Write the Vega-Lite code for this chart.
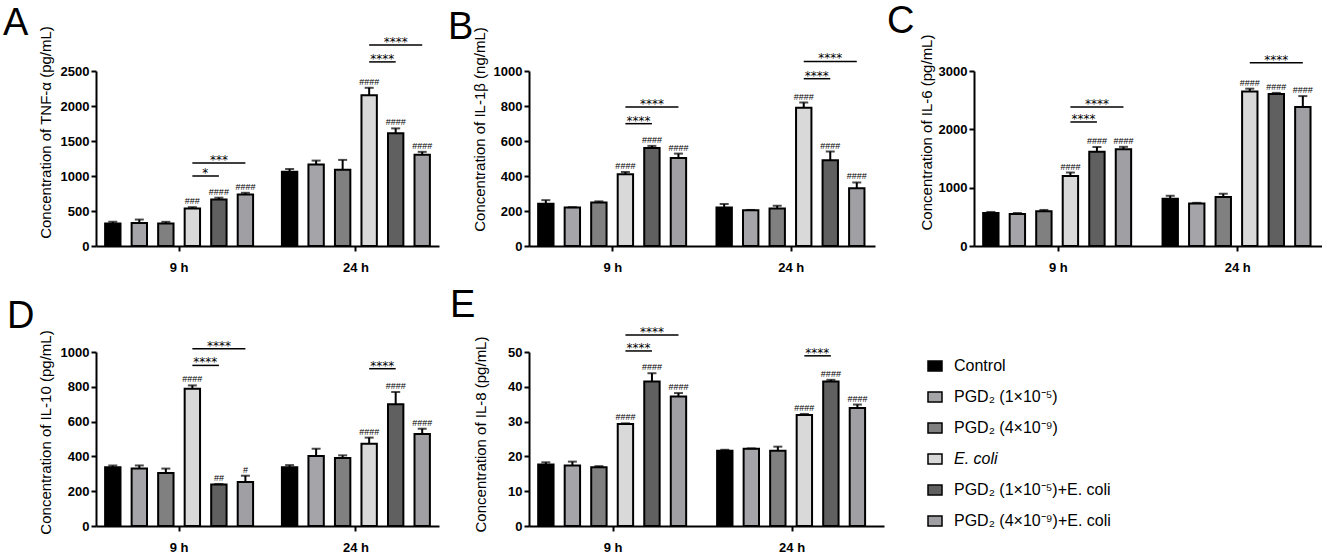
{
"$schema": "https://vega.github.io/schema/vega-lite/v6.json",
"padding": {"left": 3, "top": 3, "right": 0, "bottom": 0},
"datasets": {
"bars": [
{"panel":"A","time":"9 h","group":"Control","mean":320,"hi":345,"sig":""},
{"panel":"A","time":"9 h","group":"PGD₂ (1×10⁻⁵)","mean":330,"hi":378,"sig":""},
{"panel":"A","time":"9 h","group":"PGD₂ (4×10⁻⁹)","mean":320,"hi":345,"sig":""},
{"panel":"A","time":"9 h","group":"E. coli","mean":535,"hi":555,"sig":"###"},
{"panel":"A","time":"9 h","group":"PGD₂ (1×10⁻⁵)+E. coli","mean":665,"hi":690,"sig":"####"},
{"panel":"A","time":"9 h","group":"PGD₂ (4×10⁻⁹)+E. coli","mean":735,"hi":760,"sig":"####"},
{"panel":"A","time":"24 h","group":"Control","mean":1060,"hi":1100,"sig":""},
{"panel":"A","time":"24 h","group":"PGD₂ (1×10⁻⁵)","mean":1165,"hi":1220,"sig":""},
{"panel":"A","time":"24 h","group":"PGD₂ (4×10⁻⁹)","mean":1090,"hi":1230,"sig":""},
{"panel":"A","time":"24 h","group":"E. coli","mean":2155,"hi":2260,"sig":"####"},
{"panel":"A","time":"24 h","group":"PGD₂ (1×10⁻⁵)+E. coli","mean":1610,"hi":1680,"sig":"####"},
{"panel":"A","time":"24 h","group":"PGD₂ (4×10⁻⁹)+E. coli","mean":1305,"hi":1345,"sig":"####"},
{"panel":"B","time":"9 h","group":"Control","mean":242,"hi":262,"sig":""},
{"panel":"B","time":"9 h","group":"PGD₂ (1×10⁻⁵)","mean":220,"hi":222,"sig":""},
{"panel":"B","time":"9 h","group":"PGD₂ (4×10⁻⁹)","mean":248,"hi":255,"sig":""},
{"panel":"B","time":"9 h","group":"E. coli","mean":410,"hi":423,"sig":"####"},
{"panel":"B","time":"9 h","group":"PGD₂ (1×10⁻⁵)+E. coli","mean":560,"hi":572,"sig":"####"},
{"panel":"B","time":"9 h","group":"PGD₂ (4×10⁻⁹)+E. coli","mean":503,"hi":528,"sig":"####"},
{"panel":"B","time":"24 h","group":"Control","mean":220,"hi":240,"sig":""},
{"panel":"B","time":"24 h","group":"PGD₂ (1×10⁻⁵)","mean":204,"hi":206,"sig":""},
{"panel":"B","time":"24 h","group":"PGD₂ (4×10⁻⁹)","mean":215,"hi":230,"sig":""},
{"panel":"B","time":"24 h","group":"E. coli","mean":790,"hi":820,"sig":"####"},
{"panel":"B","time":"24 h","group":"PGD₂ (1×10⁻⁵)+E. coli","mean":490,"hi":540,"sig":"####"},
{"panel":"B","time":"24 h","group":"PGD₂ (4×10⁻⁹)+E. coli","mean":330,"hi":363,"sig":"####"},
{"panel":"C","time":"9 h","group":"Control","mean":566,"hi":584,"sig":""},
{"panel":"C","time":"9 h","group":"PGD₂ (1×10⁻⁵)","mean":549,"hi":566,"sig":""},
{"panel":"C","time":"9 h","group":"PGD₂ (4×10⁻⁹)","mean":595,"hi":618,"sig":""},
{"panel":"C","time":"9 h","group":"E. coli","mean":1200,"hi":1260,"sig":"####"},
{"panel":"C","time":"9 h","group":"PGD₂ (1×10⁻⁵)+E. coli","mean":1617,"hi":1697,"sig":"####"},
{"panel":"C","time":"9 h","group":"PGD₂ (4×10⁻⁹)+E. coli","mean":1660,"hi":1700,"sig":"####"},
{"panel":"C","time":"24 h","group":"Control","mean":809,"hi":861,"sig":""},
{"panel":"C","time":"24 h","group":"PGD₂ (1×10⁻⁵)","mean":728,"hi":740,"sig":""},
{"panel":"C","time":"24 h","group":"PGD₂ (4×10⁻⁹)","mean":838,"hi":896,"sig":""},
{"panel":"C","time":"24 h","group":"E. coli","mean":2650,"hi":2697,"sig":"####"},
{"panel":"C","time":"24 h","group":"PGD₂ (1×10⁻⁵)+E. coli","mean":2605,"hi":2625,"sig":"####"},
{"panel":"C","time":"24 h","group":"PGD₂ (4×10⁻⁹)+E. coli","mean":2385,"hi":2570,"sig":"####"},
{"panel":"D","time":"9 h","group":"Control","mean":337,"hi":347,"sig":""},
{"panel":"D","time":"9 h","group":"PGD₂ (1×10⁻⁵)","mean":330,"hi":348,"sig":""},
{"panel":"D","time":"9 h","group":"PGD₂ (4×10⁻⁹)","mean":305,"hi":330,"sig":""},
{"panel":"D","time":"9 h","group":"E. coli","mean":789,"hi":808,"sig":"####"},
{"panel":"D","time":"9 h","group":"PGD₂ (1×10⁻⁵)+E. coli","mean":238,"hi":241,"sig":"##"},
{"panel":"D","time":"9 h","group":"PGD₂ (4×10⁻⁹)+E. coli","mean":253,"hi":289,"sig":"#"},
{"panel":"D","time":"24 h","group":"Control","mean":337,"hi":350,"sig":""},
{"panel":"D","time":"24 h","group":"PGD₂ (1×10⁻⁵)","mean":402,"hi":444,"sig":""},
{"panel":"D","time":"24 h","group":"PGD₂ (4×10⁻⁹)","mean":391,"hi":406,"sig":""},
{"panel":"D","time":"24 h","group":"E. coli","mean":473,"hi":508,"sig":"####"},
{"panel":"D","time":"24 h","group":"PGD₂ (1×10⁻⁵)+E. coli","mean":699,"hi":770,"sig":"####"},
{"panel":"D","time":"24 h","group":"PGD₂ (4×10⁻⁹)+E. coli","mean":529,"hi":559,"sig":"####"},
{"panel":"E","time":"9 h","group":"Control","mean":17.7,"hi":18.3,"sig":""},
{"panel":"E","time":"9 h","group":"PGD₂ (1×10⁻⁵)","mean":17.4,"hi":18.5,"sig":""},
{"panel":"E","time":"9 h","group":"PGD₂ (4×10⁻⁹)","mean":16.9,"hi":17.2,"sig":""},
{"panel":"E","time":"9 h","group":"E. coli","mean":29.3,"hi":29.5,"sig":"####"},
{"panel":"E","time":"9 h","group":"PGD₂ (1×10⁻⁵)+E. coli","mean":41.5,"hi":43.9,"sig":"####"},
{"panel":"E","time":"9 h","group":"PGD₂ (4×10⁻⁹)+E. coli","mean":37.2,"hi":38.2,"sig":"####"},
{"panel":"E","time":"24 h","group":"Control","mean":21.6,"hi":21.9,"sig":""},
{"panel":"E","time":"24 h","group":"PGD₂ (1×10⁻⁵)","mean":22.2,"hi":22.3,"sig":""},
{"panel":"E","time":"24 h","group":"PGD₂ (4×10⁻⁹)","mean":21.6,"hi":22.8,"sig":""},
{"panel":"E","time":"24 h","group":"E. coli","mean":31.9,"hi":32.2,"sig":"####"},
{"panel":"E","time":"24 h","group":"PGD₂ (1×10⁻⁵)+E. coli","mean":41.5,"hi":42.0,"sig":"####"},
{"panel":"E","time":"24 h","group":"PGD₂ (4×10⁻⁹)+E. coli","mean":33.9,"hi":34.9,"sig":"####"}
],
"brk": [
{"panel":"A","time":"9 h","id":"A9s","group":"E. coli","level":1000},
{"panel":"A","time":"9 h","id":"A9s","group":"PGD₂ (1×10⁻⁵)+E. coli","level":1000},
{"panel":"A","time":"9 h","id":"A9l","group":"E. coli","level":1185},
{"panel":"A","time":"9 h","id":"A9l","group":"PGD₂ (4×10⁻⁹)+E. coli","level":1185},
{"panel":"A","time":"24 h","id":"A24s","group":"E. coli","level":2630},
{"panel":"A","time":"24 h","id":"A24s","group":"PGD₂ (1×10⁻⁵)+E. coli","level":2630},
{"panel":"A","time":"24 h","id":"A24l","group":"E. coli","level":2870},
{"panel":"A","time":"24 h","id":"A24l","group":"PGD₂ (4×10⁻⁹)+E. coli","level":2870},
{"panel":"B","time":"9 h","id":"B9s","group":"E. coli","level":699},
{"panel":"B","time":"9 h","id":"B9s","group":"PGD₂ (1×10⁻⁵)+E. coli","level":699},
{"panel":"B","time":"9 h","id":"B9l","group":"E. coli","level":794},
{"panel":"B","time":"9 h","id":"B9l","group":"PGD₂ (4×10⁻⁹)+E. coli","level":794},
{"panel":"B","time":"24 h","id":"B24s","group":"E. coli","level":956},
{"panel":"B","time":"24 h","id":"B24s","group":"PGD₂ (1×10⁻⁵)+E. coli","level":956},
{"panel":"B","time":"24 h","id":"B24l","group":"E. coli","level":1055},
{"panel":"B","time":"24 h","id":"B24l","group":"PGD₂ (4×10⁻⁹)+E. coli","level":1055},
{"panel":"C","time":"9 h","id":"C9s","group":"E. coli","level":2126},
{"panel":"C","time":"9 h","id":"C9s","group":"PGD₂ (1×10⁻⁵)+E. coli","level":2126},
{"panel":"C","time":"9 h","id":"C9l","group":"E. coli","level":2383},
{"panel":"C","time":"9 h","id":"C9l","group":"PGD₂ (4×10⁻⁹)+E. coli","level":2383},
{"panel":"C","time":"24 h","id":"C24l","group":"E. coli","level":3143},
{"panel":"C","time":"24 h","id":"C24l","group":"PGD₂ (4×10⁻⁹)+E. coli","level":3143},
{"panel":"D","time":"9 h","id":"D9s","group":"E. coli","level":923},
{"panel":"D","time":"9 h","id":"D9s","group":"PGD₂ (1×10⁻⁵)+E. coli","level":923},
{"panel":"D","time":"9 h","id":"D9l","group":"E. coli","level":1019},
{"panel":"D","time":"9 h","id":"D9l","group":"PGD₂ (4×10⁻⁹)+E. coli","level":1019},
{"panel":"D","time":"24 h","id":"D24s","group":"E. coli","level":904},
{"panel":"D","time":"24 h","id":"D24s","group":"PGD₂ (1×10⁻⁵)+E. coli","level":904},
{"panel":"E","time":"9 h","id":"E9s","group":"E. coli","level":50.3},
{"panel":"E","time":"9 h","id":"E9s","group":"PGD₂ (1×10⁻⁵)+E. coli","level":50.3},
{"panel":"E","time":"9 h","id":"E9l","group":"E. coli","level":54.9},
{"panel":"E","time":"9 h","id":"E9l","group":"PGD₂ (4×10⁻⁹)+E. coli","level":54.9},
{"panel":"E","time":"24 h","id":"E24s","group":"E. coli","level":48.9},
{"panel":"E","time":"24 h","id":"E24s","group":"PGD₂ (1×10⁻⁵)+E. coli","level":48.9}
],
"stars": [
{"panel":"A","time":"9 h","kind":"short","group":"E. coli","level":1000,"label":"*"},
{"panel":"A","time":"9 h","kind":"long","group":"PGD₂ (1×10⁻⁵)+E. coli","level":1185,"label":"***"},
{"panel":"A","time":"24 h","kind":"short","group":"E. coli","level":2630,"label":"****"},
{"panel":"A","time":"24 h","kind":"long","group":"PGD₂ (1×10⁻⁵)+E. coli","level":2870,"label":"****"},
{"panel":"B","time":"9 h","kind":"short","group":"E. coli","level":699,"label":"****"},
{"panel":"B","time":"9 h","kind":"long","group":"PGD₂ (1×10⁻⁵)+E. coli","level":794,"label":"****"},
{"panel":"B","time":"24 h","kind":"short","group":"E. coli","level":956,"label":"****"},
{"panel":"B","time":"24 h","kind":"long","group":"PGD₂ (1×10⁻⁵)+E. coli","level":1055,"label":"****"},
{"panel":"C","time":"9 h","kind":"short","group":"E. coli","level":2126,"label":"****"},
{"panel":"C","time":"9 h","kind":"long","group":"PGD₂ (1×10⁻⁵)+E. coli","level":2383,"label":"****"},
{"panel":"C","time":"24 h","kind":"long","group":"PGD₂ (1×10⁻⁵)+E. coli","level":3143,"label":"****"},
{"panel":"D","time":"9 h","kind":"short","group":"E. coli","level":923,"label":"****"},
{"panel":"D","time":"9 h","kind":"long","group":"PGD₂ (1×10⁻⁵)+E. coli","level":1019,"label":"****"},
{"panel":"D","time":"24 h","kind":"short","group":"E. coli","level":904,"label":"****"},
{"panel":"E","time":"9 h","kind":"short","group":"E. coli","level":50.3,"label":"****"},
{"panel":"E","time":"9 h","kind":"long","group":"PGD₂ (1×10⁻⁵)+E. coli","level":54.9,"label":"****"},
{"panel":"E","time":"24 h","kind":"short","group":"E. coli","level":48.9,"label":"****"}
]
},
"config": {
"font": "Liberation Sans",
"view": {"stroke": null},
"axis": {"domainColor":"black","domainWidth":2,"tickColor":"black","tickWidth":2,"tickSize":5,"labelFont":"Liberation Sans","labelFontSize":13,"labelFontWeight":"bold","labelColor":"black","labelOverlap":false,"titleFont":"Liberation Sans","titleFontSize":15,"titleFontWeight":"normal","titleColor":"black","grid":false},
"axisX": {"labelPadding":10,"labelAngle":0},
"axisY": {"labelPadding":2,"format":"d"},
"title": {"font":"Liberation Sans","fontSize":38,"fontWeight":"normal","color":"black","anchor":"start","frame":"group"},
"text": {"color":"black"},
"line": {"color":"black"}
},
"columns": 3,
"spacing": {"row": 106, "column": 90},
"bounds": "flush",
"concat": [
  {"width":343,"height":175,
   "title":{"text":"A","dx":-93,"offset":-17},
   "layer":[
    {"data":{"name":"bars"},"transform":[{"filter":"datum.panel === 'A'"}],
     "mark":{"type":"bar","stroke":"black","strokeWidth":2},
     "encoding":{
      "x":{"field":"time","type":"nominal","title":null,"scale":{"domain":["9 h","24 h"],"paddingInner":0.1,"paddingOuter":0.02}},
      "xOffset":{"field":"group","type":"nominal","scale":{"domain":["Control","PGD₂ (1×10⁻⁵)","PGD₂ (4×10⁻⁹)","E. coli","PGD₂ (1×10⁻⁵)+E. coli","PGD₂ (4×10⁻⁹)+E. coli"],"paddingInner":0.42,"paddingOuter":0.21}},
      "y":{"field":"mean","type":"quantitative","title":"Concentration of TNF-α (pg/mL)","scale":{"domain":[0,2500],"nice":false},"axis":{"values":[0,500,1000,1500,2000,2500],"titleX":-43,"titleY":61}},
      "color":{"field":"group","type":"nominal","scale":{"domain":["Control","PGD₂ (1×10⁻⁵)","PGD₂ (4×10⁻⁹)","E. coli","PGD₂ (1×10⁻⁵)+E. coli","PGD₂ (4×10⁻⁹)+E. coli"],"range":["#000000","#a4a4a9","#808080","#d9d9d9","#606060","#a0a0a4"]},
       "legend":{"orient":"none","legendX":831,"legendY":287,"title":null,"symbolType":"M-1,-0.7H1V0.7H-1Z","symbolSize":196,"symbolStrokeColor":"black","symbolStrokeWidth":1.5,"labelFont":"Liberation Sans","labelFontSize":16,"labelColor":"black","labelFontStyle":{"expr":"datum.label === 'E. coli' ? 'italic' : 'normal'"},"labelOffset":11,"rowPadding":15,"labelLimit":400,"padding":0}}
     }},
    {"data":{"name":"bars"},"transform":[{"filter":"datum.panel === 'A'"}],
     "mark":{"type":"rule","strokeWidth":2,"color":"black"},
     "encoding":{"x":{"field":"time","type":"nominal","title":null},"xOffset":{"field":"group","type":"nominal"},"y":{"field":"mean","type":"quantitative","title":"Concentration of TNF-α (pg/mL)","axis":{"values":[0,500,1000,1500,2000,2500],"titleX":-43,"titleY":61}},"y2":{"field":"hi"}}},
    {"data":{"name":"bars"},"transform":[{"filter":"datum.panel === 'A'"}],
     "mark":{"type":"tick","orient":"horizontal","size":9,"thickness":2,"color":"black"},
     "encoding":{"x":{"field":"time","type":"nominal","title":null},"xOffset":{"field":"group","type":"nominal"},"y":{"field":"hi","type":"quantitative","title":"Concentration of TNF-α (pg/mL)","axis":{"values":[0,500,1000,1500,2000,2500],"titleX":-43,"titleY":61}}}},
    {"data":{"name":"bars"},"transform":[{"filter":"datum.panel === 'A' && datum.sig !== ''"}],
     "mark":{"type":"text","fontSize":9,"baseline":"bottom","dy":-1,"color":"black"},
     "encoding":{"x":{"field":"time","type":"nominal","title":null},"xOffset":{"field":"group","type":"nominal"},"y":{"field":"hi","type":"quantitative","title":"Concentration of TNF-α (pg/mL)","axis":{"values":[0,500,1000,1500,2000,2500],"titleX":-43,"titleY":61}},"text":{"field":"sig"}}},
    {"data":{"name":"brk"},"transform":[{"filter":"datum.panel === 'A'"}],
     "mark":{"type":"line","strokeWidth":1.5,"color":"black"},
     "encoding":{"x":{"field":"time","type":"nominal","title":null},"xOffset":{"field":"group","type":"nominal"},"y":{"field":"level","type":"quantitative","title":"Concentration of TNF-α (pg/mL)","axis":{"values":[0,500,1000,1500,2000,2500],"titleX":-43,"titleY":61}},"detail":{"field":"id"}}},
    {"data":{"name":"stars"},"transform":[{"filter":"datum.panel === 'A' && datum.kind === 'short'"}],
     "mark":{"type":"text","font":"DejaVu Sans","fontSize":12,"dx":13,"dy":1,"baseline":"alphabetic","color":"black"},
     "encoding":{"x":{"field":"time","type":"nominal","title":null},"xOffset":{"field":"group","type":"nominal"},"y":{"field":"level","type":"quantitative","title":"Concentration of TNF-α (pg/mL)","axis":{"values":[0,500,1000,1500,2000,2500],"titleX":-43,"titleY":61}},"text":{"field":"label"}}},
    {"data":{"name":"stars"},"transform":[{"filter":"datum.panel === 'A' && datum.kind === 'long'"}],
     "mark":{"type":"text","font":"DejaVu Sans","fontSize":12,"dy":1,"baseline":"alphabetic","color":"black"},
     "encoding":{"x":{"field":"time","type":"nominal","title":null},"xOffset":{"field":"group","type":"nominal"},"y":{"field":"level","type":"quantitative","title":"Concentration of TNF-α (pg/mL)","axis":{"values":[0,500,1000,1500,2000,2500],"titleX":-43,"titleY":61}},"text":{"field":"label"}}}
   ]},
  {"width":346,"height":175,
   "title":{"text":"B","dx":-81,"offset":-20},
   "layer":[
    {"data":{"name":"bars"},"transform":[{"filter":"datum.panel === 'B'"}],
     "mark":{"type":"bar","stroke":"black","strokeWidth":2},
     "encoding":{
      "x":{"field":"time","type":"nominal","title":null,"scale":{"domain":["9 h","24 h"],"paddingInner":0.1,"paddingOuter":0.02}},
      "xOffset":{"field":"group","type":"nominal","scale":{"domain":["Control","PGD₂ (1×10⁻⁵)","PGD₂ (4×10⁻⁹)","E. coli","PGD₂ (1×10⁻⁵)+E. coli","PGD₂ (4×10⁻⁹)+E. coli"],"paddingInner":0.42,"paddingOuter":0.21}},
      "y":{"field":"mean","type":"quantitative","title":"Concentration of IL-1β (ng/mL)","scale":{"domain":[0,1000],"nice":false},"axis":{"values":[0,200,400,600,800,1000],"titleX":-42,"titleY":58}},
      "color":{"field":"group","type":"nominal","scale":{"domain":["Control","PGD₂ (1×10⁻⁵)","PGD₂ (4×10⁻⁹)","E. coli","PGD₂ (1×10⁻⁵)+E. coli","PGD₂ (4×10⁻⁹)+E. coli"],"range":["#000000","#a4a4a9","#808080","#d9d9d9","#606060","#a0a0a4"]},
       "legend":{"orient":"none","legendX":831,"legendY":287,"title":null,"symbolType":"M-1,-0.7H1V0.7H-1Z","symbolSize":196,"symbolStrokeColor":"black","symbolStrokeWidth":1.5,"labelFont":"Liberation Sans","labelFontSize":16,"labelColor":"black","labelFontStyle":{"expr":"datum.label === 'E. coli' ? 'italic' : 'normal'"},"labelOffset":11,"rowPadding":15,"labelLimit":400,"padding":0}}
     }},
    {"data":{"name":"bars"},"transform":[{"filter":"datum.panel === 'B'"}],
     "mark":{"type":"rule","strokeWidth":2,"color":"black"},
     "encoding":{"x":{"field":"time","type":"nominal","title":null},"xOffset":{"field":"group","type":"nominal"},"y":{"field":"mean","type":"quantitative","title":"Concentration of IL-1β (ng/mL)","axis":{"values":[0,200,400,600,800,1000],"titleX":-42,"titleY":58}},"y2":{"field":"hi"}}},
    {"data":{"name":"bars"},"transform":[{"filter":"datum.panel === 'B'"}],
     "mark":{"type":"tick","orient":"horizontal","size":9,"thickness":2,"color":"black"},
     "encoding":{"x":{"field":"time","type":"nominal","title":null},"xOffset":{"field":"group","type":"nominal"},"y":{"field":"hi","type":"quantitative","title":"Concentration of IL-1β (ng/mL)","axis":{"values":[0,200,400,600,800,1000],"titleX":-42,"titleY":58}}}},
    {"data":{"name":"bars"},"transform":[{"filter":"datum.panel === 'B' && datum.sig !== ''"}],
     "mark":{"type":"text","fontSize":9,"baseline":"bottom","dy":-1,"color":"black"},
     "encoding":{"x":{"field":"time","type":"nominal","title":null},"xOffset":{"field":"group","type":"nominal"},"y":{"field":"hi","type":"quantitative","title":"Concentration of IL-1β (ng/mL)","axis":{"values":[0,200,400,600,800,1000],"titleX":-42,"titleY":58}},"text":{"field":"sig"}}},
    {"data":{"name":"brk"},"transform":[{"filter":"datum.panel === 'B'"}],
     "mark":{"type":"line","strokeWidth":1.5,"color":"black"},
     "encoding":{"x":{"field":"time","type":"nominal","title":null},"xOffset":{"field":"group","type":"nominal"},"y":{"field":"level","type":"quantitative","title":"Concentration of IL-1β (ng/mL)","axis":{"values":[0,200,400,600,800,1000],"titleX":-42,"titleY":58}},"detail":{"field":"id"}}},
    {"data":{"name":"stars"},"transform":[{"filter":"datum.panel === 'B' && datum.kind === 'short'"}],
     "mark":{"type":"text","font":"DejaVu Sans","fontSize":12,"dx":13,"dy":1,"baseline":"alphabetic","color":"black"},
     "encoding":{"x":{"field":"time","type":"nominal","title":null},"xOffset":{"field":"group","type":"nominal"},"y":{"field":"level","type":"quantitative","title":"Concentration of IL-1β (ng/mL)","axis":{"values":[0,200,400,600,800,1000],"titleX":-42,"titleY":58}},"text":{"field":"label"}}},
    {"data":{"name":"stars"},"transform":[{"filter":"datum.panel === 'B' && datum.kind === 'long'"}],
     "mark":{"type":"text","font":"DejaVu Sans","fontSize":12,"dy":1,"baseline":"alphabetic","color":"black"},
     "encoding":{"x":{"field":"time","type":"nominal","title":null},"xOffset":{"field":"group","type":"nominal"},"y":{"field":"level","type":"quantitative","title":"Concentration of IL-1β (ng/mL)","axis":{"values":[0,200,400,600,800,1000],"titleX":-42,"titleY":58}},"text":{"field":"label"}}}
   ]},
 {"width":348,"height":175,
  "title":{"text":"C","dx":-87,"offset":-7},
  "layer":[
    {"data":{"name":"bars"},"transform":[{"filter":"datum.panel === 'C'"}],
     "mark":{"type":"bar","stroke":"black","strokeWidth":2},
     "encoding":{
      "x":{"field":"time","type":"nominal","title":null,"scale":{"domain":["9 h","24 h"],"paddingInner":0.1,"paddingOuter":0.02}},
      "xOffset":{"field":"group","type":"nominal","scale":{"domain":["Control","PGD₂ (1×10⁻⁵)","PGD₂ (4×10⁻⁹)","E. coli","PGD₂ (1×10⁻⁵)+E. coli","PGD₂ (4×10⁻⁹)+E. coli"],"paddingInner":0.42,"paddingOuter":0.21}},
      "y":{"field":"mean","type":"quantitative","title":"Concentration of IL-6 (pg/mL)","scale":{"domain":[0,3000],"nice":false},"axis":{"values":[0,1000,2000,3000],"titleX":-40,"titleY":61}},
      "color":{"field":"group","type":"nominal","scale":{"domain":["Control","PGD₂ (1×10⁻⁵)","PGD₂ (4×10⁻⁹)","E. coli","PGD₂ (1×10⁻⁵)+E. coli","PGD₂ (4×10⁻⁹)+E. coli"],"range":["#000000","#a4a4a9","#808080","#d9d9d9","#606060","#a0a0a4"]},
       "legend":{"orient":"none","legendX":831,"legendY":287,"title":null,"symbolType":"M-1,-0.7H1V0.7H-1Z","symbolSize":196,"symbolStrokeColor":"black","symbolStrokeWidth":1.5,"labelFont":"Liberation Sans","labelFontSize":16,"labelColor":"black","labelFontStyle":{"expr":"datum.label === 'E. coli' ? 'italic' : 'normal'"},"labelOffset":11,"rowPadding":15,"labelLimit":400,"padding":0}}
     }},
    {"data":{"name":"bars"},"transform":[{"filter":"datum.panel === 'C'"}],
     "mark":{"type":"rule","strokeWidth":2,"color":"black"},
     "encoding":{"x":{"field":"time","type":"nominal","title":null},"xOffset":{"field":"group","type":"nominal"},"y":{"field":"mean","type":"quantitative","title":"Concentration of IL-6 (pg/mL)","axis":{"values":[0,1000,2000,3000],"titleX":-40,"titleY":61}},"y2":{"field":"hi"}}},
    {"data":{"name":"bars"},"transform":[{"filter":"datum.panel === 'C'"}],
     "mark":{"type":"tick","orient":"horizontal","size":9,"thickness":2,"color":"black"},
     "encoding":{"x":{"field":"time","type":"nominal","title":null},"xOffset":{"field":"group","type":"nominal"},"y":{"field":"hi","type":"quantitative","title":"Concentration of IL-6 (pg/mL)","axis":{"values":[0,1000,2000,3000],"titleX":-40,"titleY":61}}}},
    {"data":{"name":"bars"},"transform":[{"filter":"datum.panel === 'C' && datum.sig !== ''"}],
     "mark":{"type":"text","fontSize":9,"baseline":"bottom","dy":-1,"color":"black"},
     "encoding":{"x":{"field":"time","type":"nominal","title":null},"xOffset":{"field":"group","type":"nominal"},"y":{"field":"hi","type":"quantitative","title":"Concentration of IL-6 (pg/mL)","axis":{"values":[0,1000,2000,3000],"titleX":-40,"titleY":61}},"text":{"field":"sig"}}},
    {"data":{"name":"brk"},"transform":[{"filter":"datum.panel === 'C'"}],
     "mark":{"type":"line","strokeWidth":1.5,"color":"black"},
     "encoding":{"x":{"field":"time","type":"nominal","title":null},"xOffset":{"field":"group","type":"nominal"},"y":{"field":"level","type":"quantitative","title":"Concentration of IL-6 (pg/mL)","axis":{"values":[0,1000,2000,3000],"titleX":-40,"titleY":61}},"detail":{"field":"id"}}},
    {"data":{"name":"stars"},"transform":[{"filter":"datum.panel === 'C' && datum.kind === 'short'"}],
     "mark":{"type":"text","font":"DejaVu Sans","fontSize":12,"dx":13,"dy":1,"baseline":"alphabetic","color":"black"},
     "encoding":{"x":{"field":"time","type":"nominal","title":null},"xOffset":{"field":"group","type":"nominal"},"y":{"field":"level","type":"quantitative","title":"Concentration of IL-6 (pg/mL)","axis":{"values":[0,1000,2000,3000],"titleX":-40,"titleY":61}},"text":{"field":"label"}}},
    {"data":{"name":"stars"},"transform":[{"filter":"datum.panel === 'C' && datum.kind === 'long'"}],
     "mark":{"type":"text","font":"DejaVu Sans","fontSize":12,"dy":1,"baseline":"alphabetic","color":"black"},
     "encoding":{"x":{"field":"time","type":"nominal","title":null},"xOffset":{"field":"group","type":"nominal"},"y":{"field":"level","type":"quantitative","title":"Concentration of IL-6 (pg/mL)","axis":{"values":[0,1000,2000,3000],"titleX":-40,"titleY":61}},"text":{"field":"label"}}}
  ]},
  {"width":343,"height":174,
   "title":{"text":"D","dx":-89,"offset":-6},
   "layer":[
    {"data":{"name":"bars"},"transform":[{"filter":"datum.panel === 'D'"}],
     "mark":{"type":"bar","stroke":"black","strokeWidth":2},
     "encoding":{
      "x":{"field":"time","type":"nominal","title":null,"scale":{"domain":["9 h","24 h"],"paddingInner":0.1,"paddingOuter":0.02}},
      "xOffset":{"field":"group","type":"nominal","scale":{"domain":["Control","PGD₂ (1×10⁻⁵)","PGD₂ (4×10⁻⁹)","E. coli","PGD₂ (1×10⁻⁵)+E. coli","PGD₂ (4×10⁻⁹)+E. coli"],"paddingInner":0.42,"paddingOuter":0.21}},
      "y":{"field":"mean","type":"quantitative","title":"Concentration of IL-10 (pg/mL)","scale":{"domain":[0,1000],"nice":false},"axis":{"values":[0,200,400,600,800,1000],"titleX":-43,"titleY":80}},
      "color":{"field":"group","type":"nominal","scale":{"domain":["Control","PGD₂ (1×10⁻⁵)","PGD₂ (4×10⁻⁹)","E. coli","PGD₂ (1×10⁻⁵)+E. coli","PGD₂ (4×10⁻⁹)+E. coli"],"range":["#000000","#a4a4a9","#808080","#d9d9d9","#606060","#a0a0a4"]},
       "legend":{"orient":"none","legendX":831,"legendY":287,"title":null,"symbolType":"M-1,-0.7H1V0.7H-1Z","symbolSize":196,"symbolStrokeColor":"black","symbolStrokeWidth":1.5,"labelFont":"Liberation Sans","labelFontSize":16,"labelColor":"black","labelFontStyle":{"expr":"datum.label === 'E. coli' ? 'italic' : 'normal'"},"labelOffset":11,"rowPadding":15,"labelLimit":400,"padding":0}}
     }},
    {"data":{"name":"bars"},"transform":[{"filter":"datum.panel === 'D'"}],
     "mark":{"type":"rule","strokeWidth":2,"color":"black"},
     "encoding":{"x":{"field":"time","type":"nominal","title":null},"xOffset":{"field":"group","type":"nominal"},"y":{"field":"mean","type":"quantitative","title":"Concentration of IL-10 (pg/mL)","axis":{"values":[0,200,400,600,800,1000],"titleX":-43,"titleY":80}},"y2":{"field":"hi"}}},
    {"data":{"name":"bars"},"transform":[{"filter":"datum.panel === 'D'"}],
     "mark":{"type":"tick","orient":"horizontal","size":9,"thickness":2,"color":"black"},
     "encoding":{"x":{"field":"time","type":"nominal","title":null},"xOffset":{"field":"group","type":"nominal"},"y":{"field":"hi","type":"quantitative","title":"Concentration of IL-10 (pg/mL)","axis":{"values":[0,200,400,600,800,1000],"titleX":-43,"titleY":80}}}},
    {"data":{"name":"bars"},"transform":[{"filter":"datum.panel === 'D' && datum.sig !== ''"}],
     "mark":{"type":"text","fontSize":9,"baseline":"bottom","dy":-1,"color":"black"},
     "encoding":{"x":{"field":"time","type":"nominal","title":null},"xOffset":{"field":"group","type":"nominal"},"y":{"field":"hi","type":"quantitative","title":"Concentration of IL-10 (pg/mL)","axis":{"values":[0,200,400,600,800,1000],"titleX":-43,"titleY":80}},"text":{"field":"sig"}}},
    {"data":{"name":"brk"},"transform":[{"filter":"datum.panel === 'D'"}],
     "mark":{"type":"line","strokeWidth":1.5,"color":"black"},
     "encoding":{"x":{"field":"time","type":"nominal","title":null},"xOffset":{"field":"group","type":"nominal"},"y":{"field":"level","type":"quantitative","title":"Concentration of IL-10 (pg/mL)","axis":{"values":[0,200,400,600,800,1000],"titleX":-43,"titleY":80}},"detail":{"field":"id"}}},
    {"data":{"name":"stars"},"transform":[{"filter":"datum.panel === 'D' && datum.kind === 'short'"}],
     "mark":{"type":"text","font":"DejaVu Sans","fontSize":12,"dx":13,"dy":1,"baseline":"alphabetic","color":"black"},
     "encoding":{"x":{"field":"time","type":"nominal","title":null},"xOffset":{"field":"group","type":"nominal"},"y":{"field":"level","type":"quantitative","title":"Concentration of IL-10 (pg/mL)","axis":{"values":[0,200,400,600,800,1000],"titleX":-43,"titleY":80}},"text":{"field":"label"}}},
    {"data":{"name":"stars"},"transform":[{"filter":"datum.panel === 'D' && datum.kind === 'long'"}],
     "mark":{"type":"text","font":"DejaVu Sans","fontSize":12,"dy":1,"baseline":"alphabetic","color":"black"},
     "encoding":{"x":{"field":"time","type":"nominal","title":null},"xOffset":{"field":"group","type":"nominal"},"y":{"field":"level","type":"quantitative","title":"Concentration of IL-10 (pg/mL)","axis":{"values":[0,200,400,600,800,1000],"titleX":-43,"titleY":80}},"text":{"field":"label"}}}
   ]},
  {"width":355,"height":174,
   "title":{"text":"E","dx":-79,"offset":1},
   "layer":[
    {"data":{"name":"bars"},"transform":[{"filter":"datum.panel === 'E'"}],
     "mark":{"type":"bar","stroke":"black","strokeWidth":2},
     "encoding":{
      "x":{"field":"time","type":"nominal","title":null,"scale":{"domain":["9 h","24 h"],"paddingInner":0.1,"paddingOuter":0.042,"align":0.24}},
      "xOffset":{"field":"group","type":"nominal","scale":{"domain":["Control","PGD₂ (1×10⁻⁵)","PGD₂ (4×10⁻⁹)","E. coli","PGD₂ (1×10⁻⁵)+E. coli","PGD₂ (4×10⁻⁹)+E. coli"],"paddingInner":0.42,"paddingOuter":0.21}},
      "y":{"field":"mean","type":"quantitative","title":"Concentration of IL-8 (pg/mL)","scale":{"domain":[0,50],"nice":false},"axis":{"values":[0,10,20,30,40,50],"titleX":-41,"titleY":82}},
      "color":{"field":"group","type":"nominal","scale":{"domain":["Control","PGD₂ (1×10⁻⁵)","PGD₂ (4×10⁻⁹)","E. coli","PGD₂ (1×10⁻⁵)+E. coli","PGD₂ (4×10⁻⁹)+E. coli"],"range":["#000000","#a4a4a9","#808080","#d9d9d9","#606060","#a0a0a4"]},
       "legend":{"orient":"none","legendX":831,"legendY":287,"title":null,"symbolType":"M-1,-0.7H1V0.7H-1Z","symbolSize":196,"symbolStrokeColor":"black","symbolStrokeWidth":1.5,"labelFont":"Liberation Sans","labelFontSize":16,"labelColor":"black","labelFontStyle":{"expr":"datum.label === 'E. coli' ? 'italic' : 'normal'"},"labelOffset":11,"rowPadding":15,"labelLimit":400,"padding":0}}
     }},
    {"data":{"name":"bars"},"transform":[{"filter":"datum.panel === 'E'"}],
     "mark":{"type":"rule","strokeWidth":2,"color":"black"},
     "encoding":{"x":{"field":"time","type":"nominal","title":null},"xOffset":{"field":"group","type":"nominal"},"y":{"field":"mean","type":"quantitative","title":"Concentration of IL-8 (pg/mL)","axis":{"values":[0,10,20,30,40,50],"titleX":-41,"titleY":82}},"y2":{"field":"hi"}}},
    {"data":{"name":"bars"},"transform":[{"filter":"datum.panel === 'E'"}],
     "mark":{"type":"tick","orient":"horizontal","size":9,"thickness":2,"color":"black"},
     "encoding":{"x":{"field":"time","type":"nominal","title":null},"xOffset":{"field":"group","type":"nominal"},"y":{"field":"hi","type":"quantitative","title":"Concentration of IL-8 (pg/mL)","axis":{"values":[0,10,20,30,40,50],"titleX":-41,"titleY":82}}}},
    {"data":{"name":"bars"},"transform":[{"filter":"datum.panel === 'E' && datum.sig !== ''"}],
     "mark":{"type":"text","fontSize":9,"baseline":"bottom","dy":-1,"color":"black"},
     "encoding":{"x":{"field":"time","type":"nominal","title":null},"xOffset":{"field":"group","type":"nominal"},"y":{"field":"hi","type":"quantitative","title":"Concentration of IL-8 (pg/mL)","axis":{"values":[0,10,20,30,40,50],"titleX":-41,"titleY":82}},"text":{"field":"sig"}}},
    {"data":{"name":"brk"},"transform":[{"filter":"datum.panel === 'E'"}],
     "mark":{"type":"line","strokeWidth":1.5,"color":"black"},
     "encoding":{"x":{"field":"time","type":"nominal","title":null},"xOffset":{"field":"group","type":"nominal"},"y":{"field":"level","type":"quantitative","title":"Concentration of IL-8 (pg/mL)","axis":{"values":[0,10,20,30,40,50],"titleX":-41,"titleY":82}},"detail":{"field":"id"}}},
    {"data":{"name":"stars"},"transform":[{"filter":"datum.panel === 'E' && datum.kind === 'short'"}],
     "mark":{"type":"text","font":"DejaVu Sans","fontSize":12,"dx":13,"dy":1,"baseline":"alphabetic","color":"black"},
     "encoding":{"x":{"field":"time","type":"nominal","title":null},"xOffset":{"field":"group","type":"nominal"},"y":{"field":"level","type":"quantitative","title":"Concentration of IL-8 (pg/mL)","axis":{"values":[0,10,20,30,40,50],"titleX":-41,"titleY":82}},"text":{"field":"label"}}},
    {"data":{"name":"stars"},"transform":[{"filter":"datum.panel === 'E' && datum.kind === 'long'"}],
     "mark":{"type":"text","font":"DejaVu Sans","fontSize":12,"dy":1,"baseline":"alphabetic","color":"black"},
     "encoding":{"x":{"field":"time","type":"nominal","title":null},"xOffset":{"field":"group","type":"nominal"},"y":{"field":"level","type":"quantitative","title":"Concentration of IL-8 (pg/mL)","axis":{"values":[0,10,20,30,40,50],"titleX":-41,"titleY":82}},"text":{"field":"label"}}}
   ]}
]
}
